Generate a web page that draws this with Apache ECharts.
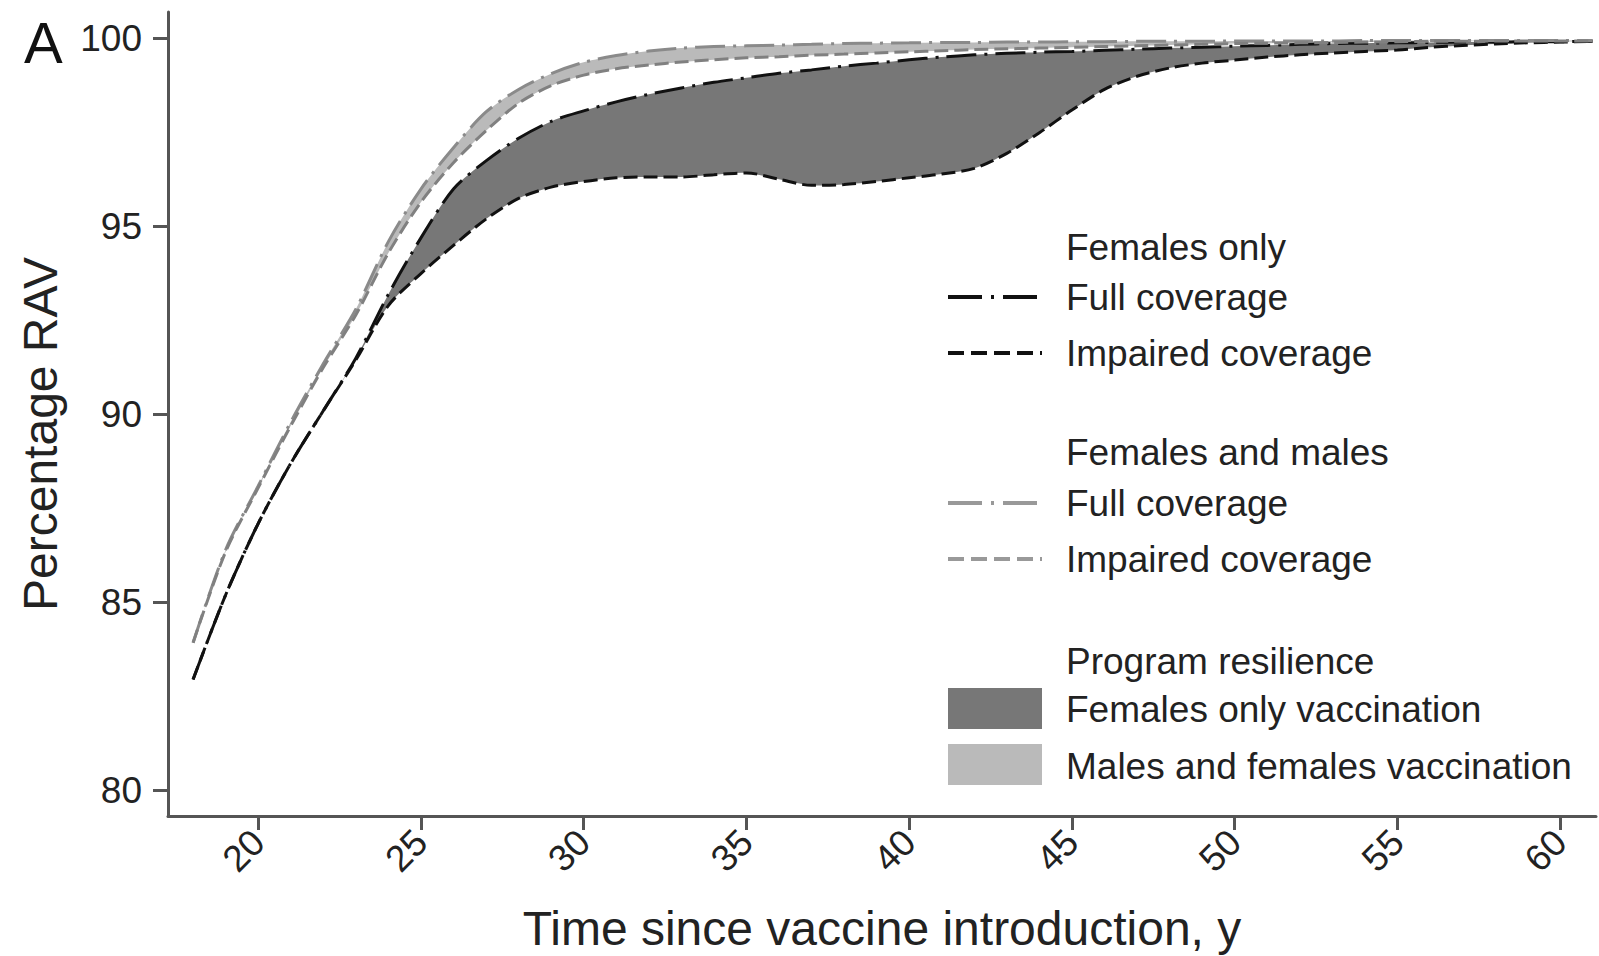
<!DOCTYPE html>
<html>
<head>
<meta charset="utf-8">
<title>Percentage RAV</title>
<script src="https://cdn.jsdelivr.net/npm/echarts@6/dist/echarts.min.js"></script>
<style>
  html, body { margin: 0; padding: 0; background: #fff; }
  #chart { width: 1599px; height: 956px; }
</style>
</head>
<body>
<div id="chart"></div>
<script>
// years since vaccine introduction
const years = [18, 19, 20, 21, 22, 23, 24, 25, 26, 27, 28, 29, 30, 31, 32, 33, 34, 35, 36, 37, 38, 39,
  40, 41, 42, 43, 44, 45, 46, 47, 48, 49, 50, 51, 52, 53, 54, 55, 56, 57, 58, 59, 60, 61];

// females only vaccination
const femalesFull = [82.95, 85.2, 87.1, 88.7, 90.1, 91.5, 93.2, 94.7, 96.0, 96.75, 97.35, 97.8, 98.08, 98.32,
  98.52, 98.69, 98.84, 98.96, 99.08, 99.17, 99.27, 99.35, 99.44, 99.51, 99.57, 99.61, 99.64, 99.66, 99.69,
  99.72, 99.75, 99.77, 99.8, 99.82, 99.85, 99.87, 99.88, 99.89, 99.9, 99.91, 99.91, 99.92, 99.92, 99.93];
const femalesImpaired = [82.95, 85.2, 87.1, 88.7, 90.1, 91.45, 92.9, 93.75, 94.5, 95.2, 95.75, 96.05, 96.2,
  96.3, 96.32, 96.32, 96.38, 96.43, 96.26, 96.1, 96.12, 96.2, 96.3, 96.4, 96.55, 96.95, 97.5, 98.1, 98.65,
  99.0, 99.22, 99.35, 99.43, 99.51, 99.57, 99.62, 99.66, 99.7, 99.77, 99.82, 99.86, 99.89, 99.91, 99.93];

// females and males vaccination
const bothFull = [83.93, 86.4, 88.1, 89.8, 91.35, 92.8, 94.6, 96.0, 97.1, 98.05, 98.65, 99.07, 99.37, 99.55,
  99.67, 99.75, 99.79, 99.81, 99.83, 99.85, 99.87, 99.88, 99.89, 99.9, 99.9, 99.91, 99.91, 99.92, 99.92,
  99.93, 99.93, 99.93, 99.94, 99.94, 99.94, 99.94, 99.95, 99.95, 99.95, 99.95, 99.95, 99.95, 99.95, 99.95];
const bothImpaired = [83.93, 86.35, 88.05, 89.7, 91.25, 92.65, 94.3, 95.65, 96.7, 97.55, 98.28, 98.75, 99.03,
  99.2, 99.3, 99.38, 99.44, 99.49, 99.52, 99.56, 99.59, 99.62, 99.65, 99.68, 99.71, 99.73, 99.75, 99.77,
  99.79, 99.81, 99.83, 99.85, 99.87, 99.88, 99.89, 99.9, 99.91, 99.92, 99.93, 99.93, 99.94, 99.94, 99.94, 99.94];

const xTicks = [20, 25, 30, 35, 40, 45, 50, 55, 60];
const yTicks = [80, 85, 90, 95, 100];

const FONT = '"Liberation Sans", Arial, Helvetica, sans-serif';
const TEXT = '#222';
const AXIS = '#555';
const DARK = '#777777';
const LIGHT = '#bababa';
const DASHDOT = [30, 8, 3, 8];
const DASHED = [14, 6];
const SMOOTH = 0.3;

const pairs = (vals) => years.map((x, i) => [x, vals[i]]);

// shaded band between the impaired and full curve, one smoothed polygon
function band(name, lower, upper, color) {
  return {
    name: name, type: 'custom', z: 1, silent: true,
    data: years.map((x, i) => [x, lower[i], upper[i]]),
    encode: { x: 0, y: [1, 2] },
    renderItem: function (params, api) {
      if (params.dataIndex !== 0) return null;
      const top = years.map((x, i) => api.coord([x, upper[i]]));
      const bottom = years.map((x, i) => api.coord([x, lower[i]])).reverse();
      return {
        type: 'polygon',
        shape: { points: top.concat(bottom), smooth: SMOOTH },
        style: { fill: color, stroke: null }
      };
    }
  };
}

function curve(name, vals, color, dash) {
  return {
    name: name, type: 'line', data: pairs(vals), symbol: 'none', smooth: SMOOTH, z: 3,
    lineStyle: { color: color, width: 3, type: dash }
  };
}

// legend drawn by hand (headers + line samples + swatches)
const legendX = 948, legendTextX = 1066;
function legText(txt, y) {
  return { type: 'text', x: legendTextX, y: y, z: 100, style: {
    text: txt, font: '37px ' + FONT, fill: TEXT, verticalAlign: 'middle', textVerticalAlign: 'middle' } };
}
function legLine(y, color, dash) {
  return { type: 'line', z: 100, shape: { x1: legendX, y1: y, x2: legendX + 94, y2: y },
    style: { stroke: color, lineWidth: 4, lineDash: dash } };
}
function legRect(y, color) {
  return { type: 'rect', z: 100, shape: { x: legendX, y: y, width: 94, height: 41 }, style: { fill: color } };
}

const chart = echarts.init(document.getElementById('chart'), null, { renderer: 'svg' });

chart.setOption({
  backgroundColor: '#fff',
  animation: false,
  textStyle: { fontFamily: FONT },
  grid: { left: 168, right: 3, top: 12, bottom: 140, outerBoundsMode: 'none' },
  xAxis: {
    type: 'value', min: 17.23, max: 61.1, z: 5,
    name: 'Time since vaccine introduction, y', nameLocation: 'middle', nameGap: 88,
    nameTextStyle: { fontSize: 48, lineHeight: 48, color: TEXT, fontFamily: FONT },
    axisLine: { lineStyle: { color: AXIS, width: 3 } },
    axisTick: { length: 14, lineStyle: { color: AXIS, width: 3 }, customValues: xTicks },
    axisLabel: { fontSize: 37, color: TEXT, rotate: 45, margin: 20, fontFamily: FONT, customValues: xTicks },
    splitLine: { show: false }
  },
  yAxis: {
    type: 'value', min: 79.32, max: 100.71, z: 5,
    name: 'Percentage RAV', nameLocation: 'middle', nameGap: 104,
    nameTextStyle: { fontSize: 48, color: TEXT, fontFamily: FONT, padding: [0, 40, 0, 0] },
    axisLine: { show: true, lineStyle: { color: AXIS, width: 3 } },
    axisTick: { show: true, length: 15, lineStyle: { color: AXIS, width: 3 }, customValues: yTicks },
    axisLabel: { fontSize: 37, color: TEXT, margin: 26, fontFamily: FONT, customValues: yTicks },
    splitLine: { show: false }
  },
  series: [
    band('Males and females vaccination', bothImpaired, bothFull, LIGHT),
    band('Females only vaccination', femalesImpaired, femalesFull, DARK),
    curve('Females only, full coverage', femalesFull, '#111', DASHDOT),
    curve('Females only, impaired coverage', femalesImpaired, '#111', DASHED),
    curve('Females and males, full coverage', bothFull, '#8a8a8a', DASHDOT),
    curve('Females and males, impaired coverage', bothImpaired, '#808080', DASHED)
  ],
  graphic: [
    { type: 'text', x: 24, y: 42, z: 100, style: { text: 'A', font: '58px ' + FONT, fill: '#111',
      verticalAlign: 'middle', textVerticalAlign: 'middle' } },
    legText('Females only', 247),
    legLine(297, '#111', [34, 9, 3, 9]), legText('Full coverage', 297),
    legLine(353, '#111', [16, 7]), legText('Impaired coverage', 353),
    legText('Females and males', 452),
    legLine(503, '#999', [34, 9, 3, 9]), legText('Full coverage', 503),
    legLine(559, '#999', [16, 7]), legText('Impaired coverage', 559),
    legText('Program resilience', 661),
    legRect(688, DARK), legText('Females only vaccination', 709),
    legRect(744, LIGHT), legText('Males and females vaccination', 766)
  ]
});
</script>
</body>
</html>
